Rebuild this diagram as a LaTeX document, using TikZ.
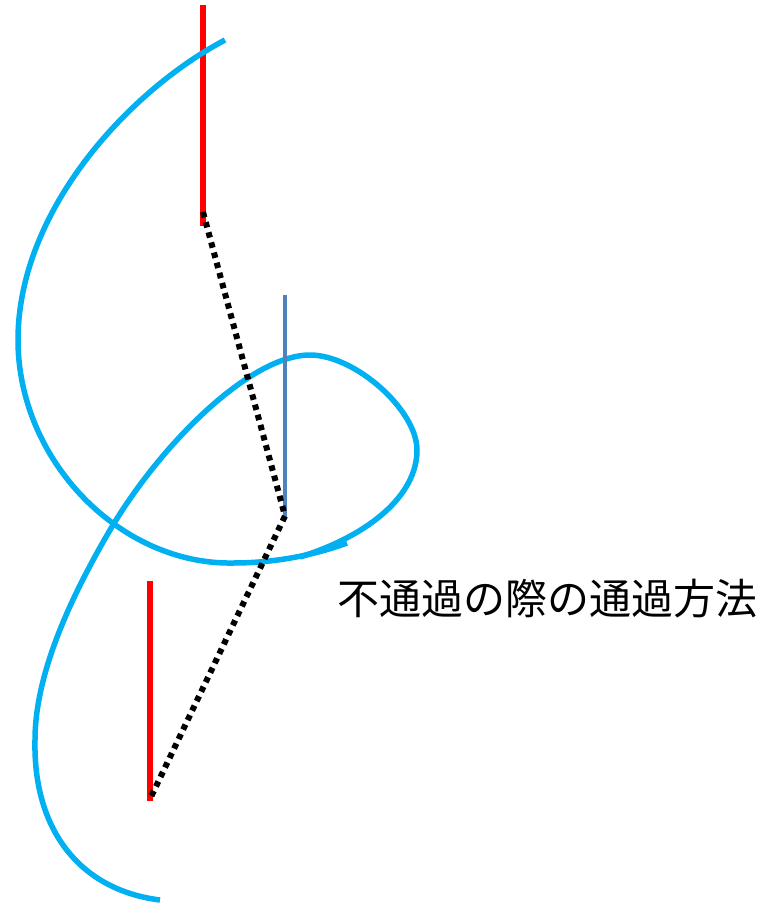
\documentclass[tikz,border=0pt]{standalone}
\usepackage{fontspec}
\newfontfamily\cjk{Noto Sans CJK JP}
\definecolor{cyanline}{RGB}{0,176,240}
\definecolor{steel}{RGB}{79,129,189}
\begin{document}
\begin{tikzpicture}[x=1pt,y=-1pt,
  redseg/.style={draw=red,line width=5.5pt},
  blueseg/.style={draw=steel,line width=4.5pt},
  curve/.style={draw=cyanline,line width=5.5pt},
  dotpath/.style={draw=black,line width=6pt,dash pattern=on 5.5pt off 5pt}]
\useasboundingbox (0,0) rectangle (775,907);
\coordinate (r1t) at (203,5);
\coordinate (r1b) at (203,226);
\coordinate (r1e) at (203,212);
\coordinate (bt) at (285,295);
\coordinate (bb) at (285,518);
\coordinate (be) at (285,516);
\coordinate (r2t) at (150,581);
\coordinate (r2b) at (150,801);
\coordinate (r2e) at (150,799);
\draw[redseg] (r1t) -- (r1b);
\draw[redseg] (r2t) -- (r2b);
\draw[curve] (225,40) .. controls (130,90) and (18,210) .. (18,340)
  .. controls (18,460) and (120,565) .. (233,563)
  .. controls (280,563) and (320,553) .. (347,543);
\draw[curve] (160,900) .. controls (80,890) and (33,830) .. (35,740)
  .. controls (35,670) and (75,590) .. (110,530)
  .. controls (160,445) and (250,355) .. (310,355)
  .. controls (355,355) and (417,410) .. (417,450)
  .. controls (417,495) and (370,535) .. (300,557);
\draw[blueseg] (bt) -- (bb);
\draw[dotpath] (r1e) -- (be) -- (r2e);
\node[inner sep=0pt,anchor=center,font=\cjk\fontsize{42pt}{46pt}\selectfont] (lbl) at (547,599) {不通過の際の通過方法};
\end{tikzpicture}
\end{document}
